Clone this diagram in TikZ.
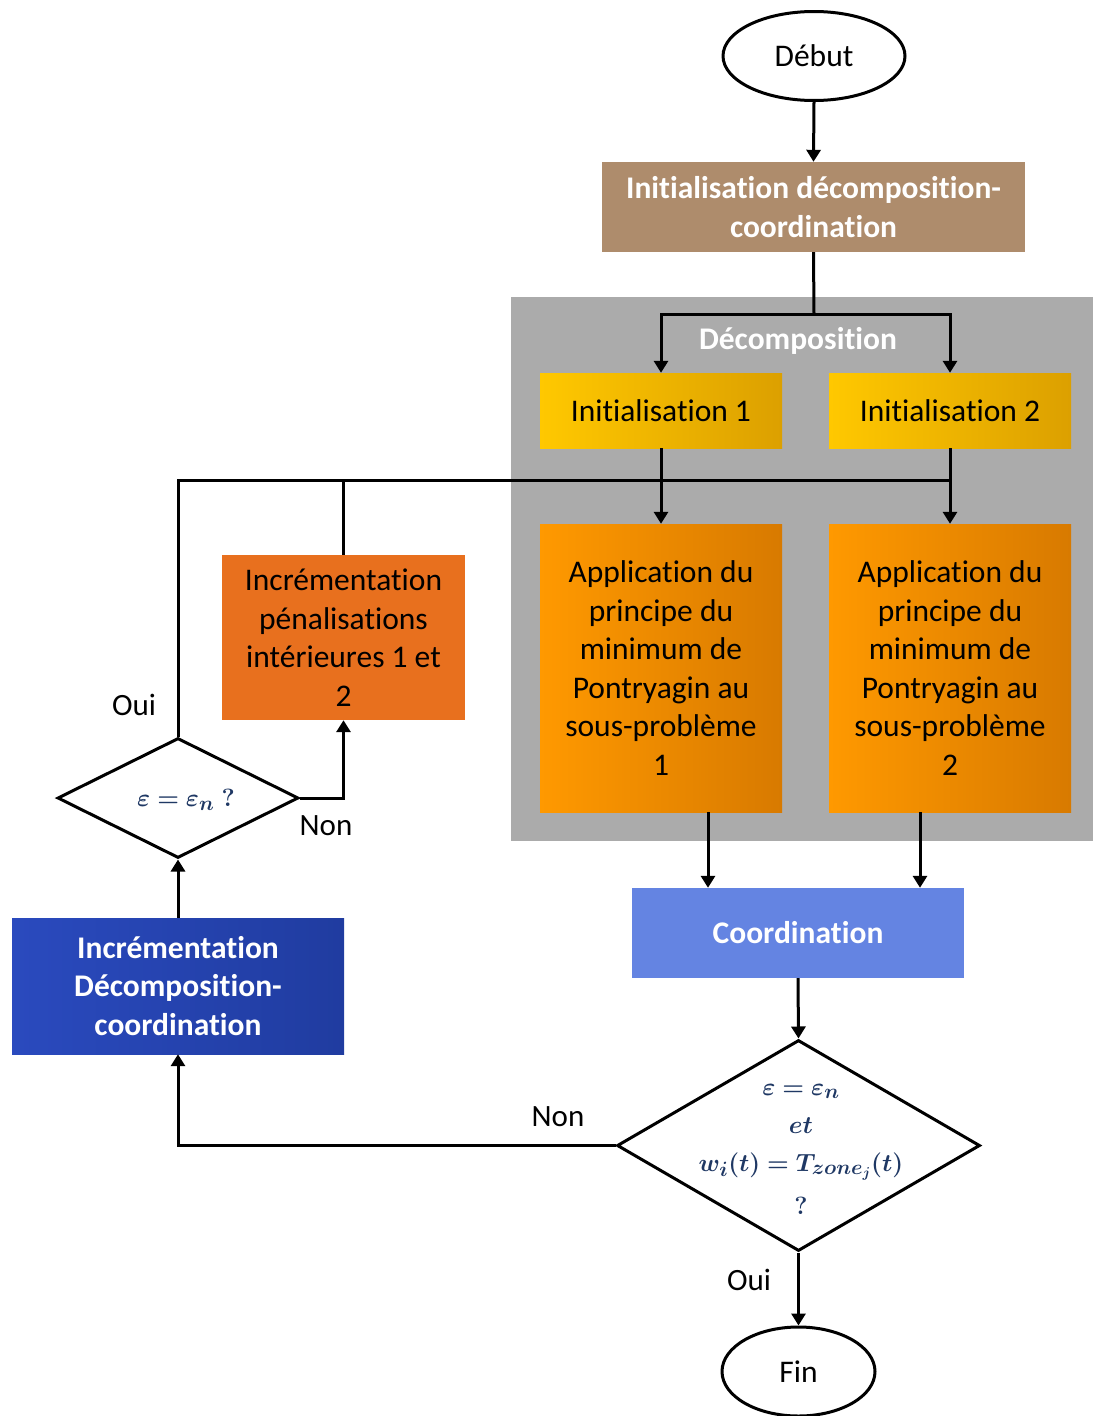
\documentclass[tikz,border=0pt]{standalone}
\usepackage{amsmath,bm}
\usepackage{fontspec}
\setmainfont[Ligatures=NoCommon]{Carlito}
\usetikzlibrary{shapes.geometric,arrows.meta,calc}
\definecolor{brownbox}{RGB}{174,140,108}
\definecolor{graybg}{RGB}{171,171,171}
\definecolor{yelL}{RGB}{255,200,0}
\definecolor{yelR}{RGB}{220,160,0}
\definecolor{oraL}{RGB}{255,153,0}
\definecolor{oraR}{RGB}{216,122,0}
\definecolor{orabox}{RGB}{232,112,30}
\definecolor{blueL}{RGB}{42,74,190}
\definecolor{blueR}{RGB}{32,60,160}
\definecolor{coordbox}{RGB}{100,132,226}
\definecolor{mathnavy}{RGB}{31,56,100}
\tikzset{
  txt/.style={font=\fontsize{31.5}{38.5}\selectfont, align=center, inner sep=0pt},
  btxt/.style={font=\fontsize{31.5}{38.5}\selectfont\bfseries, align=center, inner sep=0pt, text=white},
  termin/.style={ellipse, draw, line width=3pt, fill=white, inner sep=0pt},
  decis/.style={diamond, draw, line width=3pt, fill=white, inner sep=0pt},
  conn/.style={line width=3pt},
  arr/.style={line width=3pt, -{Triangle[length=12pt,width=14pt]}},
  lbl/.style={font=\fontsize{31}{36}\selectfont, inner sep=0pt},
  mth/.style={text=mathnavy, inner sep=0pt, align=center, font=\fontsize{31.5}{38}\selectfont}
}
\begin{document}
\begin{tikzpicture}[x=1pt,y=-1pt]
\useasboundingbox (0,0) rectangle (1093,1416);
% gray background of decomposition
\fill[graybg] (511,297) rectangle (1093,841);

% nodes
\node[termin, minimum width=182pt, minimum height=89pt] (debut) at (814,56) {};
\node[txt] (debutT) at (debut.center) {Début};

\node[rectangle, fill=brownbox, minimum width=423pt, minimum height=90pt] (init) at (813.5,207) {};
\node[btxt] (initT) at (init.center) {Initialisation décomposition-\\coordination};

\node[btxt] (decT) at (798,341) {Décomposition};

\node[rectangle, left color=yelL, right color=yelR, minimum width=242pt, minimum height=75pt] (ini1) at (661,410.5) {};
\node[txt] (ini1T) at (ini1.center) {Initialisation 1};
\node[rectangle, left color=yelL, right color=yelR, minimum width=242pt, minimum height=75pt] (ini2) at (950,410.5) {};
\node[txt] (ini2T) at (ini2.center) {Initialisation 2};

\node[rectangle, left color=oraL, right color=oraR, minimum width=242pt, minimum height=288pt] (app1) at (661,668) {};
\node[txt] (app1T) at (app1.center) {Application du\\principe du\\minimum de\\Pontryagin au\\sous-problème\\1};
\node[rectangle, left color=oraL, right color=oraR, minimum width=242pt, minimum height=288pt] (app2) at (950,668) {};
\node[txt] (app2T) at (app2.center) {Application du\\principe du\\minimum de\\Pontryagin au\\sous-problème\\2};

\node[rectangle, fill=orabox, minimum width=243pt, minimum height=165pt] (incp) at (343.5,637.5) {};
\node[txt] (incpT) at (incp.center) {Incrémentation\\pénalisations\\intérieures 1 et\\2};

\node[decis, minimum width=241pt, minimum height=120pt] (d1) at (178,798) {};
\node[mth] (d1T) at (186,800) {$\bm{\varepsilon = \varepsilon_n\ ?}$};

\node[rectangle, left color=blueL, right color=blueR, minimum width=332pt, minimum height=136pt] (blue) at (178,986) {};
\node[btxt] (blueT) at (blue.center) {Incrémentation\\Décomposition-\\coordination};

\node[rectangle, fill=coordbox, minimum width=332pt, minimum height=90pt] (coord) at (798,933) {};
\node[btxt] (coordT) at (coord.center) {Coordination};

\node[decis, minimum width=363pt, minimum height=211pt] (d2) at (798.5,1145.5) {};
\node[mth] (d2T) at (801,1149) {$\bm{\varepsilon = \varepsilon_n}$\\$\bm{et}$\\$\bm{w_i(t) = T_{zone_j}(t)}$\\[5pt]$\bm{?}$};

\node[termin, minimum width=153pt, minimum height=89pt] (fin) at (798.5,1371.5) {};
\node[txt] (finT) at (fin.center) {Fin};

% labels
\node[lbl] (oui1) at (134,705) {Oui};
\node[lbl] (non1) at (326,826) {Non};
\node[lbl] (non2) at (558,1117) {Non};
\node[lbl] (oui2) at (749,1280) {Oui};

% connectors
\coordinate (split) at (814,314);
\coordinate (loop) at (178,480);
\draw[arr] (debut.south) -- (init.north);
\draw[conn] (init.south) -- (split);
\draw[arr] (split) -| (ini1.north);
\draw[arr] (split) -| (ini2.north);
\draw[arr] (ini1.south) -- (app1.north);
\draw[arr] (ini2.south) -- (app2.north);
\draw[conn] (d1.north) -- (loop) -- (loop -| ini2.south);
\draw[conn] (incp.north) -- (incp.north |- loop);
\draw[arr] (d1.east) -| (incp.south);
\draw[arr] (blue.north) -- (d1.south);
\draw[arr] (app1.south -| 708,0) -- (coord.north -| 708,0);
\draw[arr] (app2.south -| 920,0) -- (coord.north -| 920,0);
\draw[arr] (coord.south) -- (d2.north);
\draw[arr] (d2.west) -| (blue.south);
\draw[arr] (d2.south) -- (fin.north);
\end{tikzpicture}
\end{document}
